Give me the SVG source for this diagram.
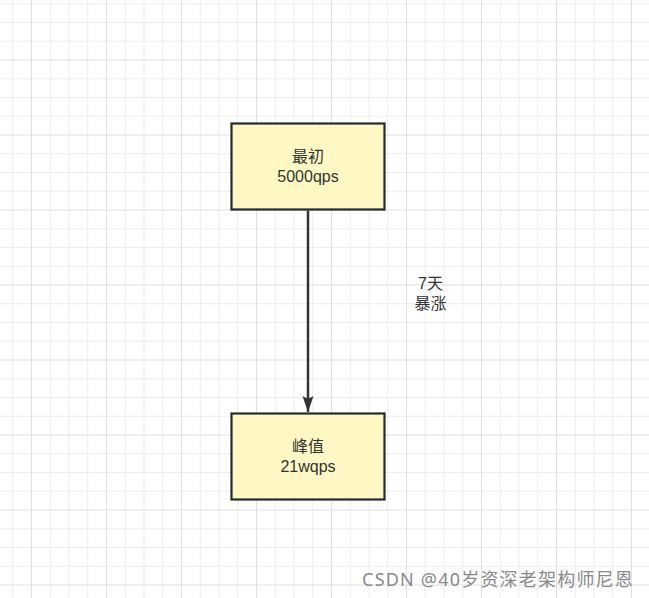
<svg xmlns="http://www.w3.org/2000/svg" width="649" height="598" viewBox="0 0 649 598">
<defs>
<style>
.minor{stroke:#ededed;stroke-width:1;fill:none}
.major{stroke:#e0e0e0;stroke-width:1;fill:none}
.box{fill:#fff8c5;stroke:#252a30;stroke-width:2.2}
.lbl{font-family:"Liberation Sans","Noto Sans CJK SC",sans-serif;font-size:16px;fill:#333333;text-anchor:middle}
.edge{stroke:#333333;stroke-width:2.5;fill:none}
.wm{font-family:"Noto Sans","Noto Sans CJK SC",sans-serif;font-size:18px;letter-spacing:1.2px;fill:#8a8a8a;text-anchor:end}
</style>
<marker id="arr" viewBox="0 0 16 12" refX="16" refY="6" markerWidth="16" markerHeight="12" markerUnits="userSpaceOnUse" orient="auto">
<path d="M0,0.5 L16,6 L0,11.5 L3,6 Z" fill="#333333"/>
</marker>
</defs>
<rect x="0" y="0" width="649" height="598" fill="#ffffff"/>
<g id="grid">
<path class="minor" d="M12.75,0V598M50.25,0V598M69,0V598M87.75,0V598M125.25,0V598M144,0V598M162.75,0V598M200.25,0V598M219,0V598M237.75,0V598M275.25,0V598M294,0V598M312.75,0V598M350.25,0V598M369,0V598M387.75,0V598M425.25,0V598M444,0V598M462.75,0V598M500.25,0V598M519,0V598M537.75,0V598M575.25,0V598M594,0V598M612.75,0V598M0,3.75H649M0,22.5H649M0,41.25H649M0,78.75H649M0,97.5H649M0,116.25H649M0,153.75H649M0,172.5H649M0,191.25H649M0,228.75H649M0,247.5H649M0,266.25H649M0,303.75H649M0,322.5H649M0,341.25H649M0,378.75H649M0,397.5H649M0,416.25H649M0,453.75H649M0,472.5H649M0,491.25H649M0,528.75H649M0,547.5H649M0,566.25H649"/>
<path class="major" d="M31.5,0V598M106.5,0V598M181.5,0V598M256.5,0V598M331.5,0V598M406.5,0V598M481.5,0V598M556.5,0V598M631.5,0V598M0,60H649M0,135H649M0,210H649M0,285H649M0,360H649M0,435H649M0,510H649M0,585H649"/>
</g>
<g id="connectors">
<path class="edge" d="M308,210.5V412" marker-end="url(#arr)"/>
<text class="lbl"><tspan x="430.5" y="289">7天</tspan><tspan x="430.5" y="309">暴涨</tspan></text>
</g>
<g id="node-start">
<rect class="box" x="231.5" y="123.5" width="153" height="86"/>
<text class="lbl"><tspan x="308" y="162">最初</tspan><tspan x="308" y="181.7">5000qps</tspan></text>
</g>
<g id="node-peak">
<rect class="box" x="231.5" y="413.5" width="153" height="86"/>
<text class="lbl"><tspan x="308" y="452">峰值</tspan><tspan x="308" y="471.7">21wqps</tspan></text>
</g>
<text class="wm" x="634" y="586">CSDN @40岁资深老架构师尼恩</text>
</svg>
